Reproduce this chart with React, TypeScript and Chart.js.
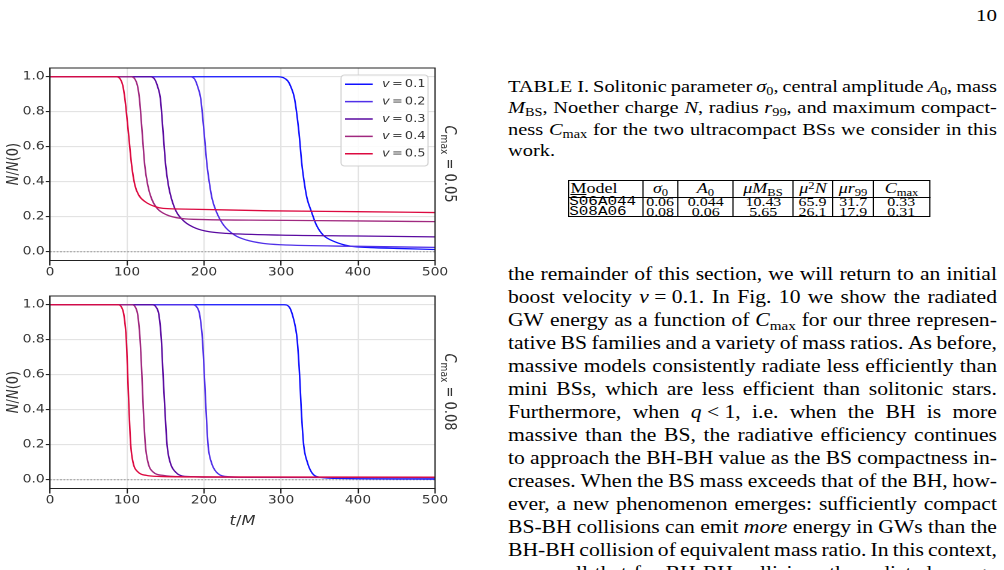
import React, { useEffect, useRef } from 'react';
import { Chart, registerables } from 'chart.js';

Chart.register(...registerables);

// horizontal stretch of the page image
const SX = 1.2;

// ---------- chart values ----------
const xTicks = [0, 100, 200, 300, 400, 500];
const yTicks = [0.0, 0.2, 0.4, 0.6, 0.8, 1.0];
const velocities = ['0.1', '0.2', '0.3', '0.4', '0.5'];
const seriesColors = ['#1010ff', '#5030e8', '#5a0aa0', '#a0287f', '#dc0a40'];
const panelCmax = ['0.05', '0.08'];
const zeroLineT = [0, 500];
const zeroLineN = [0, 0];
const ZERO = '__zero__';

// C_max = 0.05 panel
const tA1 = [0, 296, 303, 309, 313, 317.5, 323.2, 327.2, 330.7, 333.8, 339.5, 346, 354.8, 370, 390, 416, 450, 500];
const nA1 = [1.0, 1.0, 0.995, 0.975, 0.94, 0.876, 0.686, 0.495, 0.381, 0.305, 0.229, 0.152, 0.095, 0.057, 0.032, 0.024, 0.019, 0.013];
const tA2 = [0, 182, 188, 192, 195.7, 200, 203.9, 207.4, 210.4, 216, 225.5, 239.8, 255, 276.6, 300, 400, 500];
const nA2 = [1.0, 1.0, 0.985, 0.94, 0.876, 0.686, 0.495, 0.381, 0.305, 0.229, 0.152, 0.095, 0.067, 0.048, 0.04, 0.031, 0.025];
const tA3 = [0, 130, 136, 140, 143.3, 146.8, 150.2, 153.7, 157.6, 164, 174.9, 190, 207, 229, 300, 400, 500];
const nA3 = [1.0, 1.0, 0.985, 0.94, 0.876, 0.686, 0.495, 0.381, 0.305, 0.229, 0.171, 0.133, 0.114, 0.105, 0.095, 0.09, 0.085];
const tA4 = [0, 105, 110.5, 113.5, 116.1, 119.6, 123, 126.9, 131.7, 139.1, 152, 171.5, 200, 285, 400, 500];
const nA4 = [1.0, 1.0, 0.985, 0.95, 0.876, 0.686, 0.495, 0.381, 0.305, 0.248, 0.21, 0.19, 0.184, 0.18, 0.176, 0.172];
const tA5 = [0, 86, 91.5, 94.5, 97.2, 101.7, 106, 110.2, 115.2, 123.5, 137, 147, 186, 285, 400, 500];
const nA5 = [1.0, 1.0, 0.985, 0.95, 0.876, 0.686, 0.495, 0.381, 0.324, 0.286, 0.257, 0.248, 0.243, 0.234, 0.229, 0.224];

// C_max = 0.08 panel
const tB1 = [0, 304, 311, 315, 318.9, 321, 324.1, 326.3, 329.4, 334.2, 339.5, 346, 370, 500];
const nB1 = [1.0, 1.0, 0.985, 0.94, 0.867, 0.8, 0.6, 0.4, 0.2, 0.1, 0.044, 0.019, 0.008, 0.004];
const tB2 = [0, 184, 191, 194.5, 198, 200.4, 202.6, 205.2, 209.5, 216, 227, 260, 500];
const nB2 = [1.0, 1.0, 0.985, 0.94, 0.8, 0.6, 0.4, 0.2, 0.1, 0.044, 0.019, 0.014, 0.012];
const tB3 = [0, 132, 138, 141.5, 144.6, 146.8, 149.2, 152, 156, 163, 175, 220, 500];
const nB3 = [1.0, 1.0, 0.985, 0.94, 0.8, 0.6, 0.4, 0.2, 0.1, 0.044, 0.019, 0.015, 0.013];
const tB4 = [0, 106, 111, 114, 117, 119.3, 121.2, 123.8, 127.2, 134, 147, 170, 300, 500];
const nB4 = [1.0, 1.0, 0.985, 0.94, 0.8, 0.6, 0.4, 0.2, 0.1, 0.044, 0.025, 0.018, 0.015, 0.014];
const tB5 = [0, 88, 93, 96, 99.1, 100.9, 102.6, 104.8, 107.8, 114.3, 125.1, 142.4, 200, 500];
const nB5 = [1.0, 1.0, 0.985, 0.94, 0.8, 0.6, 0.4, 0.2, 0.1, 0.044, 0.025, 0.019, 0.016, 0.015];

const topT = [tA1, tA2, tA3, tA4, tA5];
const topN = [nA1, nA2, nA3, nA4, nA5];
const botT = [tB1, tB2, tB3, tB4, tB5];
const botN = [nB1, nB2, nB3, nB4, nB5];

// ---------- table values ----------
const tableHeaders = ['*σ*_{0}', '*A*_{0}', '*μM*_{BS}', '*μ*^{2}*N*', '*μr*_{99}', '*C*_{max}'];
const modelNames = ['S06A044', 'S08A06'];
const sigma0 = ['0.06', '0.08'];
const amp0 = ['0.044', '0.06'];
const muMass = ['10.43', '5.65'];
const mu2N = ['65.9', '26.1'];
const muR99 = ['31.7', '17.9'];
const cMaxVals = ['0.33', '0.31'];

const captionLines = [
  'TABLE\u00a0I. Solitonic parameter *σ*_{0}, central amplitude *A*_{0}, mass',
  '*M*_{BS}, Noether charge *N*, radius *r*_{99}, and maximum compact-',
  'ness *C*_{max} for the two ultracompact BSs we consider in this',
];
const captionLast = 'work.';

const bodyLines = [
  'the remainder of this section, we will return to an initial',
  'boost velocity *v*\u00a0=\u00a00.1. In Fig. 10 we show the radiated',
  'GW energy as a function of *C*_{max} for our three represen-',
  'tative BS families and a variety of mass ratios. As before,',
  'massive models consistently radiate less efficiently than',
  'mini BSs, which are less efficient than solitonic stars.',
  'Furthermore, when *q*\u00a0<\u00a01, i.e. when the BH is more',
  'massive than the BS, the radiative efficiency continues',
  'to approach the BH-BH value as the BS compactness in-',
  'creases. When the BS mass exceeds that of the BH, how-',
  'ever, a new phenomenon emerges: sufficiently compact',
  'BS-BH collisions can emit *more* energy in GWs than the',
  'BH-BH collision of equivalent mass ratio. In this context,',
  'we recall that for BH-BH collisions the radiated energy',
];

const SERIF = '"Liberation Serif", "Times New Roman", serif';
const SANS = '"DejaVu Sans", sans-serif';
const MONO = '"Liberation Mono", monospace';

// ---------- rich text helper ----------
const subStyle: React.CSSProperties = { fontSize: '0.7em', lineHeight: 0, position: 'relative', top: '0.28em', verticalAlign: 'baseline', fontStyle: 'normal' };
const supStyle: React.CSSProperties = { fontSize: '0.7em', lineHeight: 0, position: 'relative', top: '-0.42em', verticalAlign: 'baseline', fontStyle: 'normal' };

function rich(s: string): React.ReactNode[] {
  const out: React.ReactNode[] = [];
  let buf = '';
  let italic = false;
  let k = 0;
  const flush = () => {
    if (buf) {
      out.push(italic ? <i key={k++}>{buf}</i> : <span key={k++}>{buf}</span>);
      buf = '';
    }
  };
  let i = 0;
  while (i < s.length) {
    const c = s[i];
    if (c === '*') { flush(); italic = !italic; i++; continue; }
    if ((c === '_' || c === '^') && s[i + 1] === '{') {
      flush();
      const end = s.indexOf('}', i);
      const inner = s.slice(i + 2, end);
      out.push(<span key={k++} style={c === '_' ? subStyle : supStyle}>{inner}</span>);
      i = end + 1;
      continue;
    }
    buf += c;
    i++;
  }
  flush();
  return out;
}

function JLine({ text, lh }: { text: string; lh: number }) {
  const words = text.split(' ');
  return (
    <div style={{ display: 'flex', justifyContent: 'space-between', height: lh, lineHeight: lh + 'px', whiteSpace: 'nowrap' }}>
      {words.map((w, i) => <span key={i}>{rich(w)}</span>)}
    </div>
  );
}

// ---------- chart ----------
const frameLegendPlugin: any = {
  id: 'frameLegend',
  afterDraw(chart: any, _args: any, opts: any) {
    const { ctx, chartArea: a } = chart;
    ctx.save();
    ctx.strokeStyle = '#222';
    ctx.lineWidth = 1;
    ctx.strokeRect(a.left, a.top, a.right - a.left, a.bottom - a.top);
    if (opts && opts.legend) {
      const bw = 72.5;
      const bh = 91;
      const bx = a.right - 5.8 - bw;
      const by = a.top + 7;
      ctx.beginPath();
      ctx.roundRect(bx, by, bw, bh, 3);
      ctx.fillStyle = 'rgba(255,255,255,0.85)';
      ctx.fill();
      ctx.strokeStyle = '#d2d2d2';
      ctx.lineWidth = 1;
      ctx.stroke();
      const items = chart.data.datasets.filter((d: any) => d.label !== ZERO);
      items.forEach((d: any, i: number) => {
        const y = by + 9.3 + i * 17.35;
        ctx.strokeStyle = d.borderColor;
        ctx.lineWidth = 1.5;
        ctx.beginPath();
        ctx.moveTo(bx + 3.3, y);
        ctx.lineTo(bx + 26.4, y);
        ctx.stroke();
        const parts = String(d.label).split(' = ');
        let x = bx + 34.2;
        ctx.fillStyle = '#333';
        ctx.textBaseline = 'middle';
        ctx.textAlign = 'left';
        ctx.font = 'italic 10.8px "DejaVu Sans"';
        ctx.fillText(parts[0], x, y);
        x += ctx.measureText(parts[0]).width + 1.8;
        ctx.font = '10.8px "DejaVu Sans"';
        ctx.fillText('=', x, y);
        x += ctx.measureText('=').width + 1.8;
        ctx.fillText(parts[1], x, y);
      });
    }
    ctx.restore();
  },
};

const CW = 395;
const CH = 222;

function NChart({ ts, ns, legend, top }: { ts: number[][]; ns: number[][]; legend: boolean; top: number }) {
  const ref = useRef<HTMLCanvasElement>(null);
  useEffect(() => {
    const datasets: any[] = ts.map((t, i) => ({
      label: 'v = ' + velocities[i],
      data: t.map((x, j) => ({ x, y: ns[i][j] })),
      borderColor: seriesColors[i],
      backgroundColor: seriesColors[i],
      borderWidth: 1.3,
      pointRadius: 0,
      cubicInterpolationMode: 'monotone',
      fill: false,
      order: ts.length - i,
    }));
    datasets.push({
      label: ZERO,
      data: zeroLineT.map((x, j) => ({ x, y: zeroLineN[j] })),
      borderColor: '#9a9a9a',
      borderWidth: 1,
      borderDash: [1.4, 1.4],
      pointRadius: 0,
      fill: false,
      order: 100,
    });
    const tickFont = { family: 'DejaVu Sans', size: 11.5 };
    const chart = new Chart(ref.current as HTMLCanvasElement, {
      type: 'line',
      data: { datasets },
      options: {
        animation: false,
        responsive: false,
        maintainAspectRatio: false,
        devicePixelRatio: 2,
        events: [],
        layout: { padding: { left: 0, right: CW - 362.5, top: 10, bottom: 0 } },
        plugins: {
          legend: { display: false },
          tooltip: { enabled: false },
          frameLegend: { legend },
        } as any,
        scales: {
          x: {
            type: 'linear',
            min: 0,
            max: 500,
            afterBuildTicks: (s: any) => { s.ticks = xTicks.map((v) => ({ value: v })); },
            afterFit: (s: any) => { s.height = 19.5; },
            grid: { color: '#e3e3e3', lineWidth: 1.1, tickLength: 5, tickColor: '#222' },
            border: { display: true, color: '#222', width: 1 },
            ticks: { color: '#333', font: tickFont, padding: 0, maxRotation: 0, autoSkip: false, callback: (v: any) => String(v) },
          },
          y: {
            type: 'linear',
            min: -0.05,
            max: 1.05,
            afterBuildTicks: (s: any) => { s.ticks = yTicks.map((v) => ({ value: v })); },
            afterFit: (s: any) => { s.width = 41.67; },
            grid: { color: '#e3e3e3', lineWidth: 1.1, tickLength: 3.5, tickColor: '#222' },
            border: { display: true, color: '#222', width: 1 },
            ticks: { color: '#333', font: tickFont, padding: 1, autoSkip: false, callback: (v: any) => Number(v).toFixed(1) },
          },
        },
      } as any,
      plugins: [frameLegendPlugin],
    });
    return () => chart.destroy();
  }, []);
  return (
    <canvas
      ref={ref}
      width={CW}
      height={CH}
      style={{ position: 'absolute', left: 0, top, width: CW, height: CH, display: 'block' }}
    />
  );
}

function RotLabel({ x, y, rot, size, children }: { x: number; y: number; rot: number; size: number; children: React.ReactNode }) {
  return (
    <div
      style={{
        position: 'absolute', left: x, top: y, whiteSpace: 'nowrap', fontFamily: SANS, fontSize: size,
        color: '#333', lineHeight: 1.2, transform: `translate(-50%,-50%) rotate(${rot}deg)`,
      }}
    >
      {children}
    </div>
  );
}

function CmaxLabel({ v }: { v: string }) {
  return (
    <span>
      <i>C</i><span style={{ fontSize: '0.7em', position: 'relative', top: '0.3em', lineHeight: 0 }}>max</span> = {v}
    </span>
  );
}

// ---------- table ----------
const colW = [62.5, 29.17, 45.83, 50, 33.33, 33.33, 47.5];
const rowTop = [0, 17.7, 27.2];
const rowH = [17.7, 9.5, 9.5];

function BSTable() {
  const colX: number[] = [];
  let acc = 0;
  colW.forEach((w) => { colX.push(acc); acc += w; });
  const totalW = acc;
  const totalH = rowTop[2] + rowH[2];
  const rows = [0, 1].map((r) => [modelNames[r], sigma0[r], amp0[r], muMass[r], mu2N[r], muR99[r], cMaxVals[r]]);
  const cells: React.ReactNode[] = [];
  // header
  cells.push(
    <div key="h0" style={{ position: 'absolute', left: colX[0] + 2, top: 0, width: colW[0], height: rowH[0], lineHeight: rowH[0] + 'px', fontSize: 15 }}>
      <span style={{ textDecoration: 'underline' }}>M</span>odel
    </div>
  );
  tableHeaders.forEach((h, i) => {
    cells.push(
      <div key={'h' + (i + 1)} style={{ position: 'absolute', left: colX[i + 1], top: 0, width: colW[i + 1], height: rowH[0], lineHeight: rowH[0] + 'px', fontSize: 15, textAlign: 'center', whiteSpace: 'nowrap' }}>
        {rich(h)}
      </div>
    );
  });
  rows.forEach((row, r) => {
    row.forEach((val, c) => {
      cells.push(
        <div key={'r' + r + 'c' + c} style={{
          position: 'absolute', left: colX[c] + (c === 0 ? 1 : 0), top: rowTop[r + 1] + 0.3, width: colW[c], height: rowH[r + 1],
          lineHeight: rowH[r + 1] + 'px', fontSize: 12.3, fontFamily: c === 0 ? MONO : SERIF,
          textAlign: c === 0 ? 'left' : 'center', whiteSpace: 'nowrap',
        }}>
          <span style={{ display: 'inline-block', transform: 'scaleX(1.08)', transformOrigin: c === 0 ? '0 50%' : '50% 50%' }}>{val}</span>
        </div>
      );
    });
  });
  return (
    <div style={{ position: 'absolute', left: 50, top: 180, width: totalW, height: totalH, fontFamily: SERIF, color: '#000' }}>
      <div style={{ position: 'absolute', inset: 0, border: '1px solid #000', boxSizing: 'border-box' }} />
      <div style={{ position: 'absolute', left: 0, top: rowH[0] - 0.5, width: totalW, height: 1, background: '#000' }} />
      {colX.slice(1).map((x, i) => (
        <div key={'v' + i} style={{ position: 'absolute', left: x - 0.5, top: 0, width: 1, height: totalH, background: '#000' }} />
      ))}
      {cells}
    </div>
  );
}

// ---------- page ----------
export default function App() {
  const rightW = 489 / SX;
  return (
    <div style={{ position: 'fixed', left: 0, top: 0, width: 1004, height: 570, overflow: 'hidden', background: '#fff' }}>
      {/* left: the two panels */}
      <div style={{ position: 'absolute', left: 0, top: 0, width: CW, height: 570, transform: `scaleX(${SX})`, transformOrigin: '0 0' }}>
        <NChart ts={topT} ns={topN} legend={true} top={58} />
        <NChart ts={botT} ns={botN} legend={false} top={286} />
        <RotLabel x={10.8} y={164.25} rot={-90} size={13}><i>N</i>/<i>N</i>(0)</RotLabel>
        <RotLabel x={10.8} y={392.25} rot={-90} size={13}><i>N</i>/<i>N</i>(0)</RotLabel>
        <RotLabel x={375} y={164.25} rot={90} size={13}><CmaxLabel v={panelCmax[0]} /></RotLabel>
        <RotLabel x={375} y={392.25} rot={90} size={13}><CmaxLabel v={panelCmax[1]} /></RotLabel>
        <RotLabel x={202.1} y={520} rot={0} size={13.5}><i>t</i>/<i>M</i></RotLabel>
      </div>

      {/* right: caption, table, text */}
      <div style={{ position: 'absolute', left: 508, top: 0, width: rightW, height: 570, transform: `scaleX(${SX})`, transformOrigin: '0 0', fontFamily: SERIF, color: '#000' }}>
        <div style={{ position: 'absolute', right: 0, top: 4.8, fontSize: 17.5, lineHeight: '20px' }}>10</div>
        <div style={{ position: 'absolute', left: 0, top: 75.5, width: rightW, fontSize: 17 }}>
          {captionLines.map((l, i) => <JLine key={i} text={l} lh={21.5} />)}
          <div style={{ height: 21.5, lineHeight: '21.5px' }}>{rich(captionLast)}</div>
        </div>
        <BSTable />
        <div style={{ position: 'absolute', left: 0, top: 263.45, width: rightW, fontSize: 18 }}>
          {bodyLines.map((l, i) => <JLine key={i} text={l} lh={22.95} />)}
        </div>
      </div>
    </div>
  );
}
